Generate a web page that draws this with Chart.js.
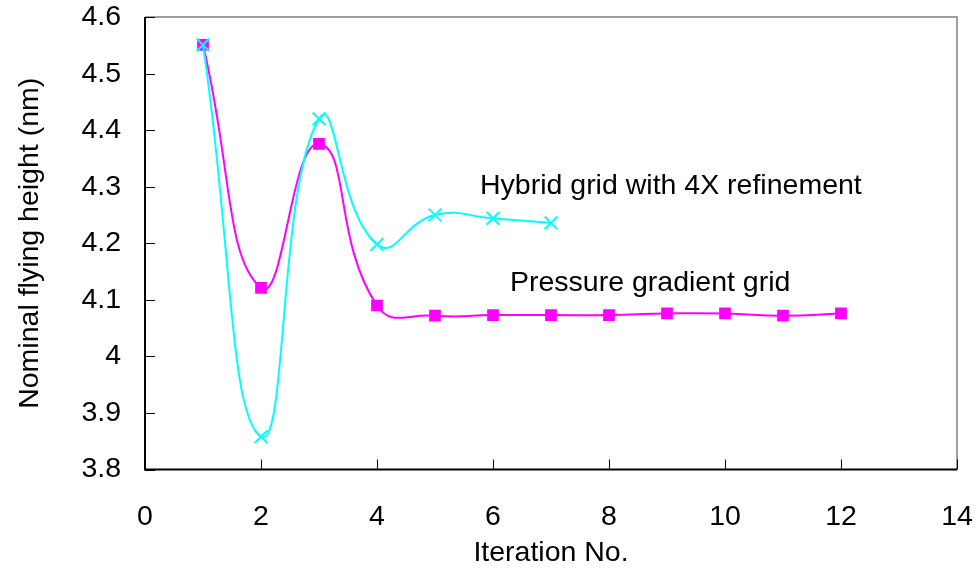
<!DOCTYPE html>
<html>
<head>
<meta charset="utf-8">
<script src="https://cdn.jsdelivr.net/npm/chart.js@4.4.1/dist/chart.umd.min.js"></script>
<style>
html,body{margin:0;padding:0;background:#fff;}
#wrap{width:980px;height:577px;}
</style>
</head>
<body>
<div id="wrap"><canvas id="c" width="980" height="577"></canvas></div>
<script>
const pressureIter = [1,2,3,4,5,6,7,8,9,10,11,12];
const pressureHeight = [4.551,4.121,4.376,4.090,4.072,4.073,4.073,4.073,4.076,4.076,4.072,4.076];
const hybridIter = [1,2,3,4,5,6,7];
const hybridHeight = [4.551,3.858,4.420,4.198,4.250,4.244,4.236];
const xTicks = [0,2,4,6,8,10,12,14];
const yTicks = [3.8,3.9,4.0,4.1,4.2,4.3,4.4,4.5,4.6];
const seriesLabels = ["Hybrid grid with 4X refinement","Pressure gradient grid"];
const labelAnchors = [[5.776,4.287],[6.293,4.115]];

const FONT = "'Liberation Sans', Arial, sans-serif";
const FS = 28.5;

const toPts = (xs, ys) => xs.map((x,i)=>({x:x,y:ys[i]}));

const frame = {
  id:'frame',
  afterDatasetsDraw(chart){
    const {ctx, chartArea:a, scales:{x,y}} = chart;
    ctx.save();
    ctx.strokeStyle='#808080'; ctx.lineWidth=1.5;
    ctx.beginPath();
    ctx.moveTo(a.left,a.top); ctx.lineTo(a.right,a.top); ctx.lineTo(a.right,a.bottom);
    ctx.stroke();
    ctx.strokeStyle='#000'; ctx.lineWidth=1;
    ctx.beginPath();
    xTicks.forEach(v=>{const px=Math.round(x.getPixelForValue(v))+0.5; ctx.moveTo(px,a.bottom); ctx.lineTo(px,a.bottom-10);});
    yTicks.forEach(v=>{const py=Math.round(y.getPixelForValue(v))+0.5; ctx.moveTo(a.left,py); ctx.lineTo(a.left+10,py);});
    ctx.stroke();
    ctx.strokeStyle='#000'; ctx.lineWidth=2;
    ctx.beginPath();
    ctx.moveTo(a.left,a.top); ctx.lineTo(a.left,a.bottom); ctx.lineTo(a.right,a.bottom);
    ctx.stroke();
    ctx.fillStyle='#000'; ctx.font=FS+'px '+FONT; ctx.textBaseline='alphabetic'; ctx.textAlign='left';
    seriesLabels.forEach((t,i)=>{
      ctx.fillText(t, x.getPixelForValue(labelAnchors[i][0]), y.getPixelForValue(labelAnchors[i][1]));
    });
    ctx.restore();
  }
};

new Chart(document.getElementById('c'), {
  type:'scatter',
  data:{
    datasets:[
      {
        label:seriesLabels[0],
        data:toPts(hybridIter,hybridHeight),
        showLine:true,
        borderColor:'#00FFFF',
        backgroundColor:'#00FFFF',
        borderWidth:2,
        tension:0.5,
        pointStyle:'crossRot',
        pointRadius:9,
        pointBorderWidth:2,
        pointBorderColor:'#00FFFF'
      },
      {
        label:seriesLabels[1],
        data:toPts(pressureIter,pressureHeight),
        showLine:true,
        borderColor:'#FF00FF',
        backgroundColor:'#FF00FF',
        borderWidth:2,
        tension:0.5,
        pointStyle:'rect',
        pointRadius:8.3,
        pointBorderWidth:0,
        pointBorderColor:'#FF00FF'
      }
    ]
  },
  options:{
    responsive:false,
    animation:false,
    layout:{padding:{left:0,right:23,top:2,bottom:0}},
    plugins:{legend:{display:false},tooltip:{enabled:false}},
    scales:{
      x:{
        type:'linear', min:0, max:14,
        afterBuildTicks(s){ s.ticks = xTicks.map(v=>({value:v})); },
        afterFit(s){ s.height = 107.5; },
        ticks:{font:{family:FONT,size:FS},color:'#000',padding:0,maxRotation:0},
        grid:{display:true,drawOnChartArea:false,drawTicks:true,tickLength:31,tickColor:'rgba(0,0,0,0)'},
        border:{display:false},
        title:{display:true,text:'Iteration No.',font:{family:FONT,size:FS},color:'#000',padding:{top:0,bottom:7}}
      },
      y:{
        type:'linear', min:3.8, max:4.6,
        afterBuildTicks(s){ s.ticks = yTicks.map(v=>({value:v})); },
        afterFit(s){ s.width = 145; },
        ticks:{font:{family:FONT,size:FS},color:'#000',padding:0,
          callback:(v)=> (Math.round(v*10)/10).toString()},
        grid:{display:true,drawOnChartArea:false,drawTicks:true,tickLength:24,tickColor:'rgba(0,0,0,0)'},
        border:{display:false},
        title:{display:true,text:'Nominal flying height (nm)',font:{family:FONT,size:FS},color:'#000',padding:{top:13,bottom:0}}
      }
    }
  },
  plugins:[frame]
});
</script>
</body>
</html>
